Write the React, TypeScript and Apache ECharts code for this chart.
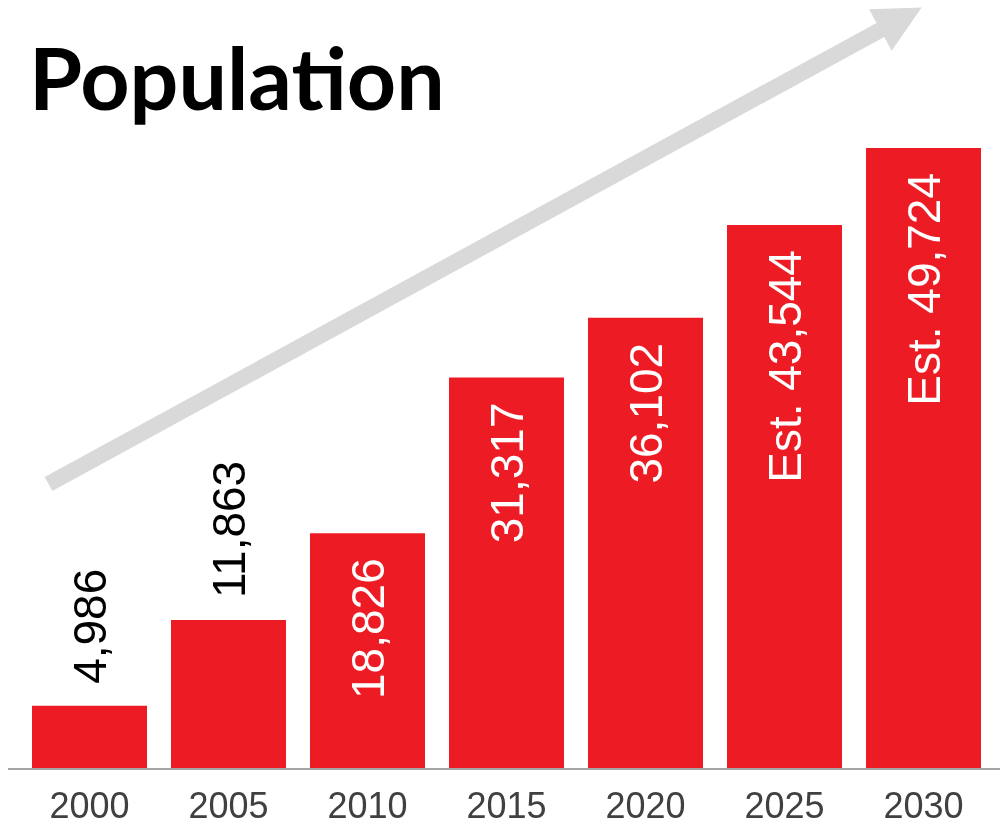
import React, { useEffect, useRef } from "react";
import * as echarts from "echarts";

const years = ["2000", "2005", "2010", "2015", "2020", "2025", "2030"];
const population = [4986, 11863, 18826, 31317, 36102, 43544, 49724];
const estimated = [false, false, false, false, false, true, true];
const labelInside = [false, false, true, true, true, true, true];

const BAR_COLOR = "#ED1C24";
const LABEL_FONT = "Liberation Sans";

function arrowPoints(): number[][] {
  // decorative arrow: start centre, direction, lengths (pixels)
  const sx = 48.5, sy = 484;
  const ux = 0.8778, uy = -0.4791;
  const nx = 0.4791, ny = 0.8778;
  const shaftHalf = 8, headBase = 947.7, headHalf = 23.6, tip = 994.7;
  const p = (t: number, o: number) => [sx + ux * t + nx * o, sy + uy * t + ny * o];
  return [
    p(0, -shaftHalf),
    p(headBase, -shaftHalf),
    p(headBase, -headHalf),
    p(tip, 0),
    p(headBase, headHalf),
    p(headBase, shaftHalf),
    p(0, shaftHalf),
  ];
}

export default function App() {
  const ref = useRef<HTMLDivElement>(null);
  useEffect(() => {
    if (!ref.current) return;
    const chart = echarts.init(ref.current, null, { renderer: "svg" });
    const data = population.map((v, i) => ({
      value: v,
      label: labelInside[i]
        ? {
            position: "insideTop",
            distance: 25,
            align: "right",
            verticalAlign: "middle",
            color: "#ffffff",
          }
        : {
            position: "top",
            distance: 22,
            align: "left",
            verticalAlign: "middle",
            color: "#000000",
          },
    }));
    chart.setOption({
      animation: false,
      grid: { left: 20, right: 9, top: 148, bottom: 59 },
      xAxis: {
        type: "category",
        data: years,
        axisLine: { show: false },
        axisTick: { show: false },
        axisLabel: {
          color: "#404040",
          fontSize: 36,
          fontFamily: LABEL_FONT,
          margin: 19,
        },
      },
      yAxis: {
        type: "value",
        min: 0,
        max: Math.max(...population),
        show: false,
        splitLine: { show: false },
      },
      series: [
        {
          type: "bar",
          data,
          barWidth: 115,
          itemStyle: { color: BAR_COLOR },
          label: {
            show: true,
            rotate: 90,
            fontSize: 46,
            fontFamily: LABEL_FONT,
            formatter: (p: any) =>
              (estimated[p.dataIndex] ? "Est. " : "") +
              Number(p.value).toLocaleString("en-US"),
          },
        },
      ],
      graphic: [
        {
          type: "polygon",
          z: -1,
          shape: { points: arrowPoints() },
          style: { fill: "#D9D9D9" },
        },
        {
          type: "line",
          z: 100,
          shape: { x1: 8, y1: 769, x2: 1000, y2: 769 },
          style: { stroke: "#A6A6A6", lineWidth: 2 },
        },
        {
          type: "text",
          left: 29,
          top: 33,
          style: {
            text: "Population",
            font: "bold 86px Lato",
            fill: "#000000",
          },
        },
      ],
    });
    return () => chart.dispose();
  }, []);
  return (
    <div
      ref={ref}
      style={{ position: "fixed", left: 0, top: 0, width: 1002, height: 827 }}
    />
  );
}
